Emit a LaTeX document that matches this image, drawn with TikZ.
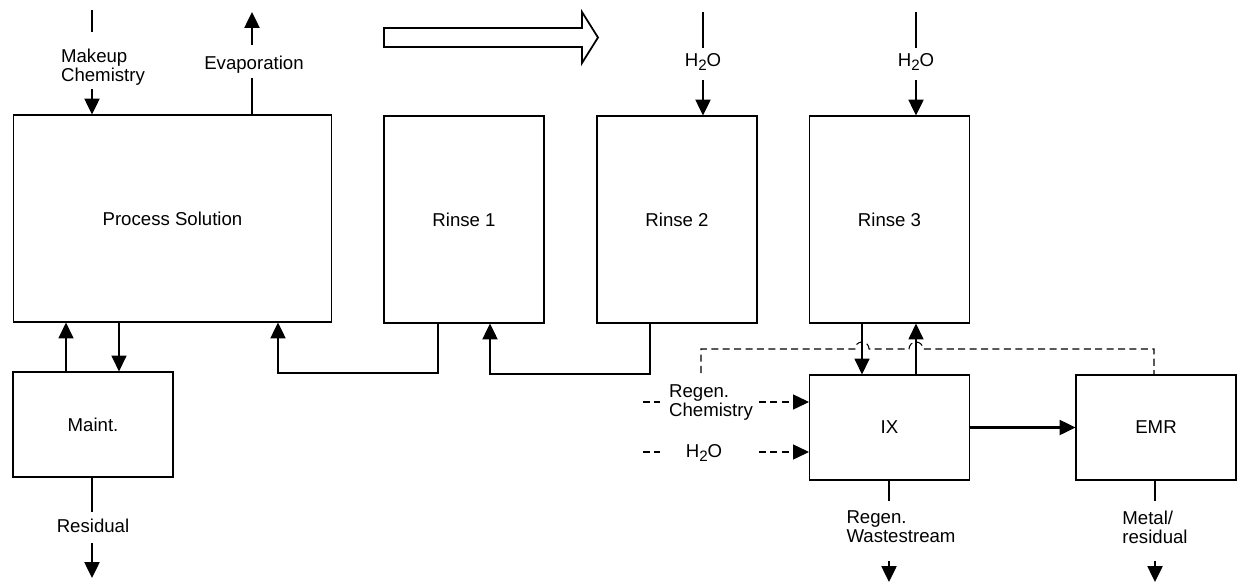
\documentclass[tikz,border=0pt]{standalone}
\usepackage{fontspec}
\setmainfont{Liberation Sans}
\usetikzlibrary{arrows.meta}
\newcommand{\hto}{H\raisebox{-2.8pt}{\fontsize{8.6}{8.6}\selectfont 2}O}

\begin{document}
\begin{tikzpicture}[x=0.02cm,y=-0.02cm,
  box/.style={draw,line width=0.6pt,minimum width=3.2cm,inner sep=0pt,font=\fontsize{10.6}{10.8}\selectfont},
  txt/.style={font=\fontsize{10.6}{10.8}\selectfont,align=left,inner sep=0pt},
  flow/.style={line width=1.2pt},
  thinflow/.style={line width=0.8pt},
  arr/.style={-{Triangle[width=8.5pt,length=9pt]}},
  dsh/.style={line width=0.6pt,dash pattern=on 4pt off 2.5pt}]
\useasboundingbox (0,0) rectangle (1238,585);

\node[box,minimum width=6.38cm,minimum height=4.14cm] (ps) at (172.5,218.5) {Process Solution};
\node[box,minimum height=4.14cm] (r1) at (464,219.5) {Rinse 1};
\node[box,minimum height=4.14cm] (r2) at (677,219.5) {Rinse 2};
\node[box,minimum height=4.14cm] (r3) at (889.5,219.5) {Rinse 3};
\node[box,minimum height=2.1cm] (mt) at (93,424.5) {Maint.};
\node[box,minimum height=2.1cm] (ix) at (889.5,427.5) {IX};
\node[box,minimum height=2.1cm] (emr) at (1156,427.5) {EMR};

% makeup and evaporation
\coordinate (mk1) at (92,10); \coordinate (mk2) at (92,32); \coordinate (mk3) at (92,89);
\node[txt] (mkl) at (103,67) {Makeup\\Chemistry};
\draw[flow] (mk1) -- (mk2);
\draw[flow,arr] (mk3) -- (mk3 |- ps.north);
\coordinate (ev1) at (252,78); \coordinate (ev2) at (252,45); \coordinate (ev3) at (252,12);
\node[txt] (evl) at (254,64.5) {Evaporation};
\draw[flow] (ev1 |- ps.north) -- (ev1);
\draw[flow,arr] (ev2) -- (ev3);

\draw[line width=1pt] (384,28) -- (582,28) -- (582,12) -- (598,37.5) -- (582,63) -- (582,47) -- (384,47) -- cycle;

% water to rinse 2 and 3
\coordinate (wa1) at (703,12); \coordinate (wa2) at (703,48); \coordinate (wa3) at (703,80);
\node[txt] (wal) at (703,62) {\hto};
\draw[flow] (wa1) -- (wa2);
\draw[flow,arr] (wa3) -- (wa3 |- r2.north);
\coordinate (wb1) at (916,12); \coordinate (wb2) at (916,48); \coordinate (wb3) at (916,80);
\node[txt] (wbl) at (916,62) {\hto};
\draw[flow] (wb1) -- (wb2);
\draw[flow,arr] (wb3) -- (wb3 |- r3.north);

% maintenance loop
\coordinate (mu) at (66,350); \coordinate (md) at (119,350);
\draw[thinflow,arr] (mu |- mt.north) -- (mu |- ps.south);
\draw[thinflow,arr] (md |- ps.south) -- (md |- mt.north);
\coordinate (rs1) at (92,512); \coordinate (rs2) at (92,543); \coordinate (rs3) at (92,578);
\node[txt] (rsl) at (93,526) {Residual};
\draw[flow] (rs1 |- mt.south) -- (rs1);
\draw[flow,arr] (rs2) -- (rs3);

% counter flow rinses
\coordinate (c1) at (438,373); \coordinate (c2) at (278,373);
\draw[flow,arr] (c1 |- r1.south) -- (c1) -- (c2) -- (c2 |- ps.south);
\coordinate (c3) at (650,374); \coordinate (c4) at (490,374);
\draw[flow,arr] (c3 |- r2.south) -- (c3) -- (c4) -- (c4 |- r1.south);

% ion exchange
\coordinate (c5) at (862,350); \coordinate (c6) at (916,350);
\draw[thinflow,arr] (c5 |- r3.south) -- (c5 |- ix.north);
\draw[thinflow,arr] (c6 |- ix.north) -- (c6 |- r3.south);
\draw[flow,arr] (ix) -- (emr);
\coordinate (d1) at (701,373); \coordinate (d2) at (701,349); \coordinate (d3) at (1154,349);
\draw[dsh] (d1) -- (d2) -- (855,349) arc[start angle=180,end angle=0,radius=4pt]
  -- (909,349) arc[start angle=180,end angle=0,radius=4pt] -- (d3) -- (d3 |- emr.north);

\coordinate (rg1) at (643,402); \coordinate (rg2) at (660,402); \coordinate (rg3) at (759,402);
\node[txt] (rgl) at (711,403) {Regen.\\Chemistry};
\draw[dsh] (rg1) -- (rg2);
\draw[dsh,arr] (rg3) -- (rg3 -| ix.west);
\coordinate (hw1) at (643,452); \coordinate (hw2) at (660,452); \coordinate (hw3) at (759,452);
\node[txt] (hwl) at (704,453) {\hto};
\draw[dsh] (hw1) -- (hw2);
\draw[dsh,arr] (hw3) -- (hw3 -| ix.west);

\coordinate (iw1) at (889,501); \coordinate (iw2) at (889,561); \coordinate (iw3) at (889,582);
\node[txt] (iwl) at (901,527) {Regen.\\Wastestream};
\draw[flow] (iw1 |- ix.south) -- (iw1);
\draw[flow,arr] (iw2) -- (iw3);
\coordinate (em1) at (1155,501); \coordinate (em2) at (1155,561); \coordinate (em3) at (1155,582);
\node[txt] (eml) at (1155,527) {Metal/\\residual};
\draw[flow] (em1 |- emr.south) -- (em1);
\draw[flow,arr] (em2) -- (em3);
\end{tikzpicture}
\end{document}
